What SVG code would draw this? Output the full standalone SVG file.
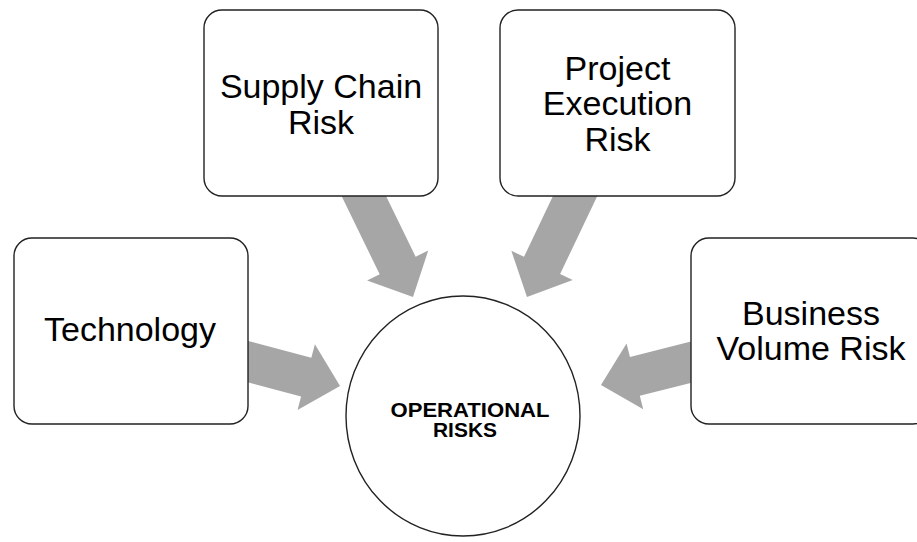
<svg xmlns="http://www.w3.org/2000/svg" width="917" height="542" viewBox="0 0 917 542">
<defs>
<style>
.box{fill:#fff;stroke:#222;stroke-width:1.4}
.arr{fill:#a6a6a6;stroke:none}
.lbl{font-family:"Liberation Sans",Arial,sans-serif;font-size:34px;fill:#000;text-anchor:middle}
.ctr{font-family:"Liberation Sans",Arial,sans-serif;font-size:19.5px;font-weight:bold;fill:#000;text-anchor:middle}
</style>
<path id="a" d="M0,-20 L75,-20 L75,-34 L110,0 L75,34 L75,20 L0,20 Z"/>
<path id="b" d="M0,-20 L90,-20 L90,-34 L125,0 L90,34 L90,20 L0,20 Z"/>
</defs>
<rect width="917" height="542" fill="#fff"/>
<g id="connectors">
<use href="#a" class="arr" transform="translate(233.7,357.9) rotate(14.8)"/>
<use href="#b" class="arr" transform="translate(358.2,184.6) rotate(64)"/>
<use href="#b" class="arr" transform="translate(580.8,184.2) rotate(115.5)"/>
<use href="#a" class="arr" transform="translate(707.6,358) rotate(165.8)"/>
</g>
<g id="technology">
<rect class="box" x="14" y="238" width="234" height="186" rx="18"/>
<text class="lbl" x="130" y="341">Technology</text>
</g>
<g id="supply-chain-risk">
<rect class="box" x="204" y="10" width="234" height="186" rx="18"/>
<text class="lbl" x="321" y="97.5">Supply Chain</text>
<text class="lbl" x="321" y="134">Risk</text>
</g>
<g id="project-execution-risk">
<rect class="box" x="500" y="10" width="235" height="186" rx="18"/>
<text class="lbl" x="617.5" y="79.5">Project</text>
<text class="lbl" x="617.5" y="115">Execution</text>
<text class="lbl" x="617.5" y="150.5">Risk</text>
</g>
<g id="business-volume-risk">
<rect class="box" x="691" y="238" width="240" height="186" rx="18"/>
<text class="lbl" x="811" y="325">Business</text>
<text class="lbl" x="811" y="360">Volume Risk</text>
</g>
<g id="operational-risks">
<ellipse class="box" cx="463" cy="416" rx="117" ry="120"/>
<text class="ctr" x="470" y="416.5" textLength="159" lengthAdjust="spacingAndGlyphs">OPERATIONAL</text>
<text class="ctr" x="465" y="437" textLength="64" lengthAdjust="spacingAndGlyphs">RISKS</text>
</g>
</svg>
